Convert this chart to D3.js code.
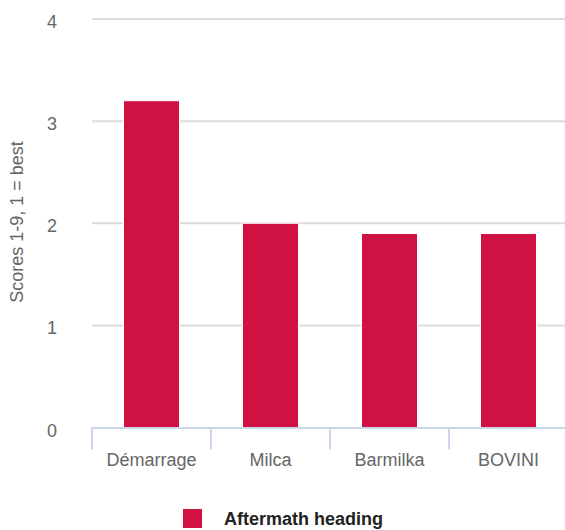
<!DOCTYPE html>
<meta charset="utf-8">
<style>
body { margin: 0; background: #fff; }
svg { font-family: "Liberation Sans", Arial, sans-serif; }
</style>
<body>
<div id="chart"></div>
<script src="https://cdn.jsdelivr.net/npm/d3@7"></script>
<script>

var categories = ["Démarrage", "Milca", "Barmilka", "BOVINI"];
var scores = [3.2, 2.0, 1.9, 1.9];
var yTicks = [0, 1, 2, 3, 4];
var seriesName = "Aftermath heading";
var yTitle = "Scores 1-9, 1 = best";

var width = 565, height = 530;
var plotLeft = 92, plotRight = 568, plotTop = 19, plotBottom = 427.5;
var barColor = "#cf1241";

var svg = d3.select("#chart").append("svg")
    .attr("width", width)
    .attr("height", height);

var x = d3.scaleBand()
    .domain(categories)
    .range([plotLeft, plotRight])
    .paddingInner(0)
    .paddingOuter(0);

var y = d3.scaleLinear()
    .domain([0, 4])
    .range([plotBottom, plotTop]);

// gridlines
svg.append("g")
  .selectAll("line")
  .data(yTicks.filter(function(d) { return d > 0; }))
  .enter().append("line")
    .attr("x1", plotLeft)
    .attr("x2", width)
    .attr("y1", function(d) { return y(d); })
    .attr("y2", function(d) { return y(d); })
    .attr("stroke", "#dcdcdc")
    .attr("stroke-width", 2);

// y labels
svg.append("g")
  .selectAll("text")
  .data(yTicks)
  .enter().append("text")
    .attr("x", 57)
    .attr("y", function(d) { return y(d) + 9; })
    .attr("text-anchor", "end")
    .attr("font-size", 18)
    .attr("fill", "#666")
    .text(function(d) { return d; });

// y title
svg.append("text")
    .attr("transform", "translate(23,222) rotate(-90)")
    .attr("text-anchor", "middle")
    .attr("font-size", 18)
    .attr("fill", "#666")
    .text(yTitle);

// bars
var bw = 56;
svg.append("g")
  .selectAll("rect")
  .data(scores)
  .enter().append("rect")
    .attr("x", function(d, i) { return x(categories[i]) + x.bandwidth() / 2 - bw / 2; })
    .attr("y", function(d) { return y(d); })
    .attr("width", bw)
    .attr("height", function(d) { return y(0) - y(d); })
    .attr("fill", barColor)
    .attr("stroke", "#fff")
    .attr("stroke-width", 1);

// x axis
var xAxis = svg.append("g");
xAxis.append("line")
    .attr("x1", plotLeft)
    .attr("x2", width)
    .attr("y1", plotBottom + 0.5)
    .attr("y2", plotBottom + 0.5)
    .attr("stroke", "#ccd6eb")
    .attr("stroke-width", 2);

xAxis.selectAll(".tick")
  .data(categories)
  .enter().append("line")
    .attr("x1", function(d) { return x(d); })
    .attr("x2", function(d) { return x(d); })
    .attr("y1", plotBottom)
    .attr("y2", plotBottom + 22)
    .attr("stroke", "#ccd6eb")
    .attr("stroke-width", 2);

xAxis.selectAll("text")
  .data(categories)
  .enter().append("text")
    .attr("x", function(d) { return x(d) + x.bandwidth() / 2; })
    .attr("y", 466)
    .attr("text-anchor", "middle")
    .attr("font-size", 18)
    .attr("fill", "#666")
    .text(function(d) { return d; });

// legend
var legend = svg.append("g");
legend.append("rect")
    .attr("x", 183)
    .attr("y", 509)
    .attr("width", 19)
    .attr("height", 19)
    .attr("fill", barColor);
legend.append("text")
    .attr("x", 224)
    .attr("y", 525)
    .attr("font-size", 18)
    .attr("font-weight", "bold")
    .attr("fill", "#222")
    .text(seriesName);

</script>
</body>
